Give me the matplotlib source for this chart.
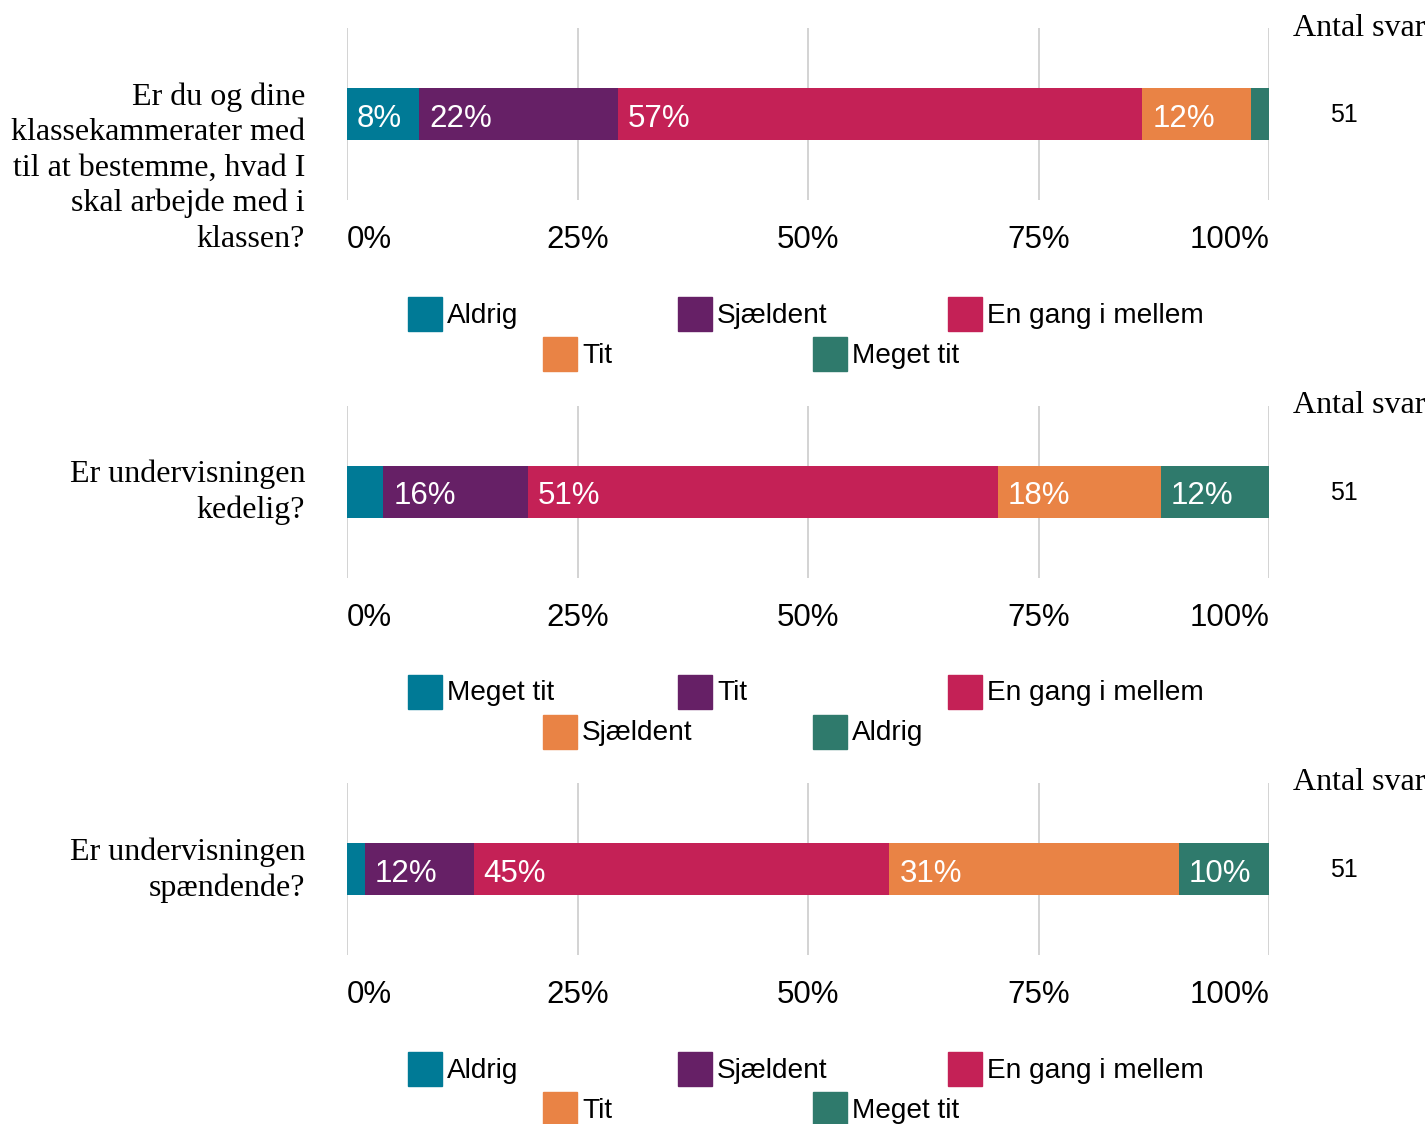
import numpy as np
import matplotlib
matplotlib.use("Agg")
import matplotlib.pyplot as plt
from matplotlib.patches import Rectangle

plt.rcParams["font.family"] = ["Liberation Sans", "DejaVu Sans"]

# data
questions = [
    "Er du og dine\nklassekammerater med\ntil at bestemme, hvad I\nskal arbejde med i\nklassen?",
    "Er undervisningen\nkedelig?",
    "Er undervisningen\nspændende?",
]
cats_q1 = ["Aldrig", "Sjældent", "En gang i mellem", "Tit", "Meget tit"]
cats_q2 = ["Meget tit", "Tit", "En gang i mellem", "Sjældent", "Aldrig"]
cats_q3 = ["Aldrig", "Sjældent", "En gang i mellem", "Tit", "Meget tit"]
counts_q1 = [4, 11, 29, 6, 1]
counts_q2 = [2, 8, 26, 9, 6]
counts_q3 = [1, 6, 23, 16, 5]
n_answers = [51, 51, 51]
ticks = [0, 25, 50, 75, 100]
tick_labels = ["0%", "25%", "50%", "75%", "100%"]

cats = [cats_q1, cats_q2, cats_q3]
counts = [counts_q1, counts_q2, counts_q3]
colors = ["#007A96", "#662066", "#C42156", "#E98345", "#2F7A6C"]

W, H = 1428, 1124
fig = plt.figure(figsize=(W / 100, H / 100), dpi=100)

AX_L, AX_W, AX_H = 347, 922, 172

def ax_x(px):
    return (px - AX_L) / AX_W

def ax_y(py, top):
    return (top + AX_H - py) / AX_H

for i in range(3):
    top = 28 + i * 377.5
    ax = fig.add_axes([AX_L / W, 1 - (top + AX_H) / H, AX_W / W, AX_H / H])
    ax.set_xlim(0, 100)
    ax.set_ylim(0, 1)
    for s in ax.spines.values():
        s.set_visible(False)
    ax.set_xticks([])
    ax.set_yticks([])
    for t in ticks:
        ax.axvline(t, color="#CCCCCC", lw=1.2, zorder=0)

    pct = np.array(counts[i]) / n_answers[i] * 100
    left = 0
    for j, p in enumerate(pct):
        ax.barh(0.5, p, left=left, height=52 / AX_H, color=colors[j], zorder=2)
        if p >= 5:
            ax.text(left + 10 / AX_W * 100, ax_y(top + 91, top), f"{p:.0f}%", color="white",
                    fontsize=22.5, ha="left", va="center", zorder=3)
        left += p

    # tick labels
    for t, lab in zip(ticks, tick_labels):
        ha = "left" if t == 0 else ("right" if t == 100 else "center")
        ax.text(t, ax_y(top + 212, top), lab, fontsize=22.5, ha=ha, va="center",
                transform=ax.get_xaxis_transform())

    # question text
    qy = ax_y(top + 140, top) if i == 0 else ax_y(top + 87, top)
    ax.text(ax_x(305), qy, questions[i], fontsize=23, ha="right", va="center",
            family="Liberation Serif", linespacing=1.29, transform=ax.transAxes)

    ax.text(ax_x(1425), ax_y(top, top), "Antal svar", fontsize=23, ha="right",
            va="center", family="Liberation Serif", transform=ax.transAxes)
    ax.text(ax_x(1344), ax_y(top + 87, top), str(n_answers[i]), fontsize=18,
            ha="center", va="center", transform=ax.transAxes)

    # legend: fixed-width cells, rows centred
    cell = 270
    center = 813
    rows = [list(range(0, 3)), list(range(3, 5))]
    for r, idx in enumerate(rows):
        start = center - len(idx) * cell / 2
        ry = top + 286 + r * 40
        for k, j in enumerate(idx):
            x0 = start + k * cell
            ax.add_patch(Rectangle((ax_x(x0), ax_y(ry + 17, top)), 34 / AX_W, 34 / AX_H,
                                   color=colors[j], transform=ax.transAxes, clip_on=False))
            ax.text(ax_x(x0 + 39), ax_y(ry + 2, top), cats[i][j], fontsize=20.2,
                    ha="left", va="center", transform=ax.transAxes)

fig.savefig("out.png", dpi=100)
